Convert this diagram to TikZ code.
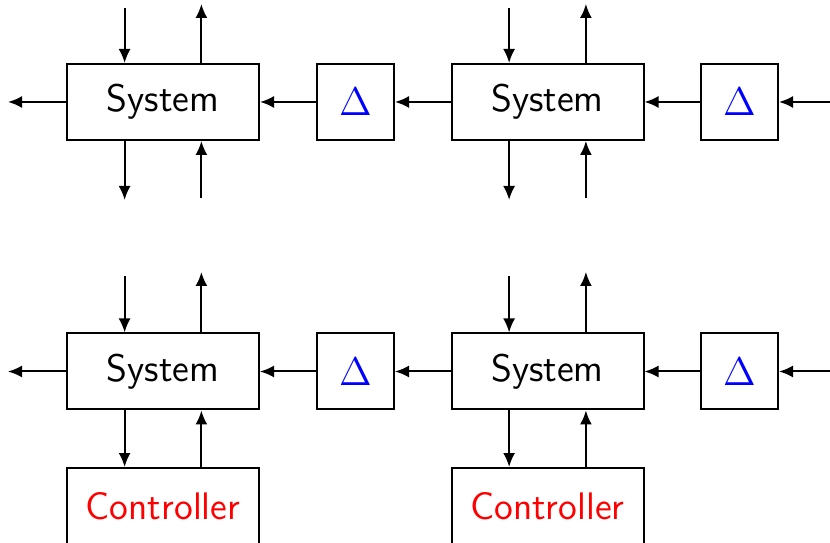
\documentclass[tikz,border=0pt]{standalone}
\usetikzlibrary{arrows.meta}
\begin{document}
\begin{tikzpicture}[x=0.3pt,y=-0.3pt,
  font=\sffamily\fontsize{11.5}{13}\selectfont,
  blk/.style={draw,line width=0.6pt,minimum width=57.6pt,minimum height=22.8pt,inner sep=0pt},
  dbox/.style={draw,line width=0.6pt,minimum width=23.1pt,minimum height=22.8pt,inner sep=0pt},
  sig/.style={line width=0.6pt,-{Latex[length=4.2pt,width=3.6pt]}},
  lft/.style={xshift=-11.52pt},
  rgt/.style={xshift=11.52pt}]
\useasboundingbox (0,0) rectangle (830,543);

% upper chain
\node[blk] (s1) at (163,102) {System};
\node[dbox] (d1) at (355.5,102) {\color{blue}$\Delta$};
\node[blk] (s2) at (547.5,102) {System};
\node[dbox] (d2) at (739.5,102) {\color{blue}$\Delta$};

% lower chain with controllers
\node[blk] (s3) at (163,371.5) {System};
\node[dbox] (d3) at (355.5,371.5) {\color{blue}$\Delta$};
\node[blk] (s4) at (547.5,371.5) {System};
\node[dbox] (d4) at (739.5,371.5) {\color{blue}$\Delta$};
\node[blk,text=red] (c3) at (163,506) {Controller};
\node[blk,text=red] (c4) at (547.5,506) {Controller};

% horizontal chain connections
\foreach \r/\a/\b/\c/\d/\y in {1/s1/d1/s2/d2/102, 2/s3/d3/s4/d4/371.5}{
  \coordinate (lo\r) at (8,\y);
  \coordinate (ri\r) at (832,\y);
  \draw[sig] (\a.west) -- (lo\r);
  \draw[sig] (\b.west) -- (\a.east);
  \draw[sig] (\c.west) -- (\b.east);
  \draw[sig] (\d.west) -- (\c.east);
  \draw[sig] (ri\r) -- (\d.east);
}

% vertical signals of the upper systems
\foreach \s in {s1,s2}{
  \coordinate (\s in) at ([lft]\s.north |- 0,8);
  \coordinate (\s out) at ([rgt]\s.north |- 0,4);
  \coordinate (\s din) at ([rgt]\s.south |- 0,198);
  \coordinate (\s dout) at ([lft]\s.south |- 0,200);
  \draw[sig] (\s in) -- ([lft]\s.north);
  \draw[sig] ([rgt]\s.north) -- (\s out);
  \draw[sig] ([lft]\s.south) -- (\s dout);
  \draw[sig] (\s din) -- ([rgt]\s.south);
}

% vertical signals of the lower systems and their controllers
\foreach \s/\c in {s3/c3,s4/c4}{
  \coordinate (\s in) at ([lft]\s.north |- 0,276);
  \coordinate (\s out) at ([rgt]\s.north |- 0,272);
  \draw[sig] (\s in) -- ([lft]\s.north);
  \draw[sig] ([rgt]\s.north) -- (\s out);
  \draw[sig] ([lft]\s.south) -- ([lft]\c.north);
  \draw[sig] ([rgt]\c.north) -- ([rgt]\s.south);
}
\end{tikzpicture}
\end{document}
